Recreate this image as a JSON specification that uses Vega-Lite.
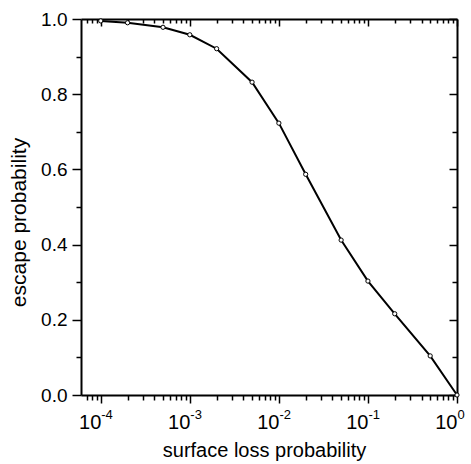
{
  "$schema": "https://vega.github.io/schema/vega-lite/v6.json",
  "autosize": "none",
  "width": 376,
  "height": 376,
  "padding": {"left": 81, "top": 19, "right": 14, "bottom": 69},
  "background": "white",
  "data": {"values": [
    {"p": 0.0001, "e": 0.995},
    {"p": 0.0002, "e": 0.990},
    {"p": 0.0005, "e": 0.978},
    {"p": 0.001, "e": 0.958},
    {"p": 0.002, "e": 0.921},
    {"p": 0.005, "e": 0.832},
    {"p": 0.01, "e": 0.723},
    {"p": 0.02, "e": 0.587},
    {"p": 0.05, "e": 0.412},
    {"p": 0.1, "e": 0.303},
    {"p": 0.2, "e": 0.216},
    {"p": 0.5, "e": 0.104},
    {"p": 1, "e": 0.0}
  ]},
  "resolve": {"axis": {"x": "independent", "y": "independent"}},
  "layer": [
    {
      "mark": {"type": "line", "color": "black", "strokeWidth": 2},
      "encoding": {
        "x": {"field": "p", "type": "quantitative",
          "scale": {"type": "log", "domain": [0.00006, 1], "nice": false},
          "axis": {"orient": "bottom", "values": [0.0001, 0.001, 0.01, 0.1, 1], "labelExpr": "'10'",
            "tickSize": 8, "labelPadding": 9, "labelAlign": "right", "labelDx": 7, "labelFlush": false, "labelOverlap": false,
            "labelFontSize": 20,
            "title": "surface loss probability", "titlePadding": 8, "titleX": 183}},
        "y": {"field": "e", "type": "quantitative",
          "scale": {"domain": [0, 1], "nice": false, "zero": false},
          "axis": {"orient": "left", "values": [0, 0.2, 0.4, 0.6, 0.8, 1.0], "format": ".1f",
            "tickSize": 9, "labelPadding": 5, "labelFlush": false, "labelOverlap": false,
            "title": "escape probability", "titlePadding": 11, "titleFontSize": 21, "titleY": 203}}
      }
    },
    {
      "mark": {"type": "point", "shape": "circle", "filled": true, "fill": "white", "stroke": "black", "strokeWidth": 1, "size": 18, "opacity": 1},
      "encoding": {
        "x": {"field": "p", "type": "quantitative",
          "axis": {"orient": "bottom", "values": [0.0001, 0.001, 0.01, 0.1, 1],
            "labelExpr": "datum.value < 0.5 ? '-' + format(-round(log(datum.value) / LN10), 'd') : '0'",
            "ticks": false, "domain": false, "labelFontSize": 13, "labelAlign": "left",
            "labelDx": 7, "labelPadding": 13, "labelFlush": false, "labelOverlap": false, "title": null}},
        "y": {"field": "e", "type": "quantitative",
          "axis": {"orient": "left", "values": [0.1, 0.3, 0.5, 0.7, 0.9], "labels": false, "domain": false,
            "tickSize": 5, "title": null}}
      }
    },
    {
      "mark": {"type": "point", "opacity": 0},
      "encoding": {
        "x": {"field": "p", "type": "quantitative",
          "axis": {"orient": "bottom", "labels": false, "domain": false, "tickSize": 5, "title": null,
            "values": [0.00007, 0.00008, 0.00009, 0.0002, 0.0003, 0.0004, 0.0005, 0.0006, 0.0007, 0.0008, 0.0009,
              0.002, 0.003, 0.004, 0.005, 0.006, 0.007, 0.008, 0.009,
              0.02, 0.03, 0.04, 0.05, 0.06, 0.07, 0.08, 0.09,
              0.2, 0.3, 0.4, 0.5, 0.6, 0.7, 0.8, 0.9]}},
        "y": {"field": "e", "type": "quantitative",
          "axis": {"orient": "right", "values": [0, 0.2, 0.4, 0.6, 0.8, 1.0], "labels": false,
            "tickSize": -8, "title": null}}
      }
    },
    {
      "mark": {"type": "point", "opacity": 0},
      "encoding": {
        "x": {"field": "p", "type": "quantitative",
          "axis": {"orient": "top", "values": [0.0001, 0.001, 0.01, 0.1, 1], "labels": false,
            "tickSize": -7, "title": null}},
        "y": {"field": "e", "type": "quantitative",
          "axis": {"orient": "right", "values": [0.1, 0.3, 0.5, 0.7, 0.9], "labels": false, "domain": false,
            "tickSize": -5, "title": null}}
      }
    },
    {
      "mark": {"type": "point", "opacity": 0},
      "encoding": {
        "x": {"field": "p", "type": "quantitative",
          "axis": {"orient": "top", "labels": false, "domain": false, "tickSize": -4, "title": null,
            "values": [0.00007, 0.00008, 0.00009, 0.0002, 0.0003, 0.0004, 0.0005, 0.0006, 0.0007, 0.0008, 0.0009,
              0.002, 0.003, 0.004, 0.005, 0.006, 0.007, 0.008, 0.009,
              0.02, 0.03, 0.04, 0.05, 0.06, 0.07, 0.08, 0.09,
              0.2, 0.3, 0.4, 0.5, 0.6, 0.7, 0.8, 0.9]}},
        "y": {"field": "e", "type": "quantitative", "axis": null}
      }
    }
  ],
  "config": {
    "view": {"stroke": null},
    "axis": {"grid": false, "domainColor": "black", "domainWidth": 2, "tickColor": "black", "tickWidth": 1.5,
      "labelColor": "black", "titleColor": "black", "labelFont": "Liberation Sans", "titleFont": "Liberation Sans",
      "labelFontSize": 19, "titleFontSize": 20, "titleFontWeight": "normal"}
  }
}
